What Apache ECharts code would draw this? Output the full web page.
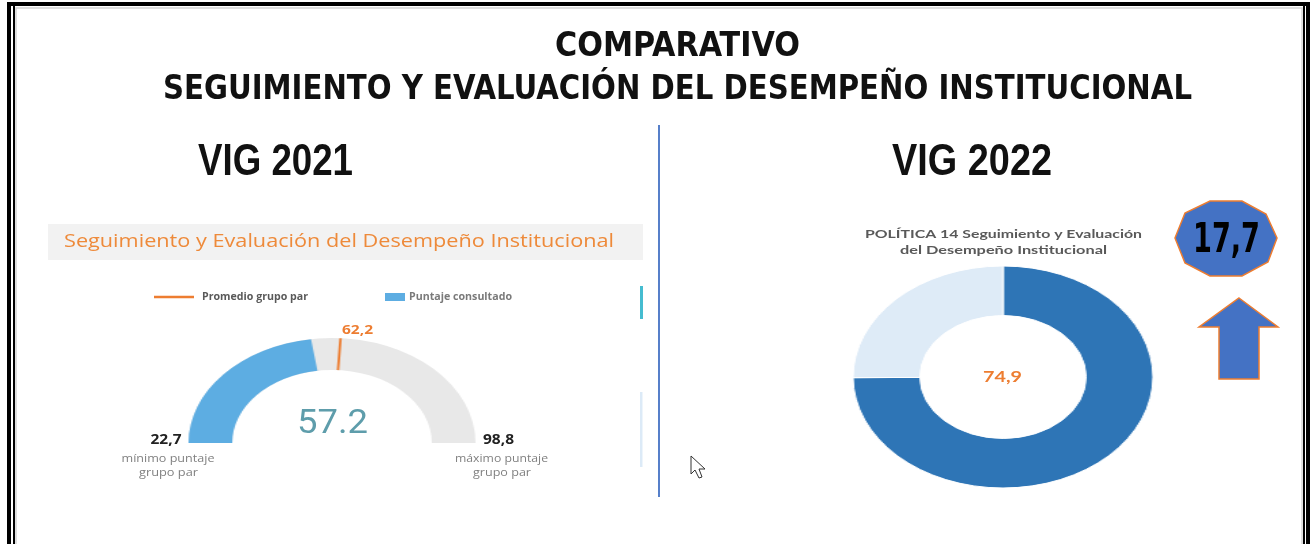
<!DOCTYPE html>
<html lang="es">
<head>
    <meta charset="UTF-8">
    <title>Comparativo Seguimiento y Evaluación del Desempeño Institucional</title>
    <script src="https://cdn.jsdelivr.net/npm/echarts@6/dist/echarts.min.js"></script>
    <style>
        body { margin: 0; overflow: hidden; background: #fff; }
        #main { position: absolute; left: 0; top: 0; width: 1310px; height: 544px; }
        /* los dos graficos circulares van estirados en horizontal como en la captura */
        #gauge { position: absolute; left: 212px; top: 323px; width: 240px; height: 125px;
                 transform: scaleX(1.367); transform-origin: 120px 120px; }
        #donut { position: absolute; left: 873px; top: 247px; width: 260px; height: 260px;
                 transform: scaleX(1.351); transform-origin: 130px 130px; }
    </style>
</head>
<body>
<div id="main"></div>
<div id="gauge"></div>
<div id="donut"></div>
<script type="text/javascript">
    // datos
    var titulos = ['COMPARATIVO', 'SEGUIMIENTO Y EVALUACIÓN DEL DESEMPEÑO INSTITUCIONAL'];
    var vigencias = ['VIG 2021', 'VIG 2022'];
    var leyenda2021 = ['Promedio grupo par', 'Puntaje consultado'];
    var rango2021 = [22.7, 98.8];          // minimo y maximo puntaje grupo par
    var puntaje2021 = [57.2];
    var promedio2021 = [62.2];
    var rangoEtiquetas = [['mínimo puntaje', 'grupo par'], ['máximo puntaje', 'grupo par']];
    var partes2022 = ['Puntaje', 'Resto'];
    var valores2022 = [74.9, 25.1];
    var mejora = [17.7];

    function coma(v) { return v.toFixed(1).replace('.', ','); }

    var ctx = document.createElement('canvas').getContext('2d');
    function fit(text, font, width) {
        ctx.font = font;
        return width / ctx.measureText(text).width;
    }
    function txt(text, x, y, font, fill, width) {
        return {
            type: 'text', x: x, y: y, scaleX: width ? fit(text, font, width) : 1,
            style: { text: text, font: font, fill: fill, align: 'center', verticalAlign: 'middle' }
        };
    }

    var fTitle = 'bold 33px "Liberation Sans Narrow", "DejaVu Sans Condensed", sans-serif';
    var fVig = 'bold 44px "Liberation Sans", sans-serif';
    var fPanel = '"Open Sans", sans-serif';

    var mainChart = echarts.init(document.getElementById('main'));
    mainChart.setOption({
        animation: false,
        backgroundColor: '#fff',
        graphic: [
            // marco
            { type: 'rect', shape: { x: 9, y: 4, width: 1299, height: 600 }, style: { fill: 'none', stroke: '#000', lineWidth: 4 } },
            { type: 'line', shape: { x1: 14, y1: 5, x2: 14, y2: 544 }, style: { stroke: '#000', lineWidth: 2 } },
            { type: 'line', shape: { x1: 1304, y1: 5, x2: 1304, y2: 544 }, style: { stroke: '#000', lineWidth: 2 } },
            { type: 'rect', shape: { x: 16, y: 8, width: 1286, height: 600 }, style: { fill: 'none', stroke: '#d4d4d4', lineWidth: 1.5 } },

            txt(titulos[0], 677.5, 47, fTitle, '#111', 245),
            txt(titulos[1], 677.5, 90, fTitle, '#111', 1029),
            txt(vigencias[0], 275.5, 163, fVig, '#111', 155),
            txt(vigencias[1], 972, 163, fVig, '#111', 160),

            { type: 'line', shape: { x1: 659, y1: 125, x2: 659, y2: 497 }, style: { stroke: '#4472C4', lineWidth: 1.8 } },

            // panel 2021
            { type: 'rect', shape: { x: 48, y: 224, width: 595, height: 36 }, style: { fill: '#F2F2F2' } },
            txt('Seguimiento y Evaluación del Desempeño Institucional', 339, 242, '19px ' + fPanel, '#EE8A3A', 550),
            { type: 'line', shape: { x1: 154, y1: 297, x2: 194, y2: 297 }, style: { stroke: '#ED7D31', lineWidth: 2.5 } },
            txt(leyenda2021[0], 255, 297, 'bold 10px ' + fPanel, '#595959', 106),
            { type: 'rect', shape: { x: 385, y: 293, width: 20, height: 8 }, style: { fill: '#5DADE2' } },
            txt(leyenda2021[1], 460.5, 297, 'bold 10px ' + fPanel, '#7a7a7a', 103),
            { type: 'rect', shape: { x: 640, y: 286, width: 3, height: 33 }, style: { fill: '#45BCD0' } },
            { type: 'rect', shape: { x: 640, y: 392, width: 2.5, height: 75 }, style: { fill: '#DCEAF7' } },

            txt(coma(promedio2021[0]), 357.5, 330, 'bold 13px ' + fPanel, '#ED7D31', 31),
            txt(String(puntaje2021[0]), 332.5, 424, '34px Roboto, sans-serif', '#5E9DAB', 71),
            txt(coma(rango2021[0]), 166, 440, 'bold 14px ' + fPanel, '#222', 31),
            txt(coma(rango2021[1]), 498.5, 440, 'bold 14px ' + fPanel, '#222', 31),
            txt(rangoEtiquetas[0][0], 168, 459, '11px ' + fPanel, '#808080', 93),
            txt(rangoEtiquetas[0][1], 168.5, 473, '11px ' + fPanel, '#808080', 59),
            txt(rangoEtiquetas[1][0], 501.5, 459, '11px ' + fPanel, '#808080', 93),
            txt(rangoEtiquetas[1][1], 502, 473, '11px ' + fPanel, '#808080', 58),

            // panel 2022
            txt('POLÍTICA 14 Seguimiento y Evaluación', 1003.5, 234, 'bold 12px Lato, sans-serif', '#595959', 277),
            txt('del Desempeño Institucional', 1003.5, 250, 'bold 12px Lato, sans-serif', '#595959', 207),
            txt(coma(valores2022[0]), 1002.5, 377, 'bold 15px Lato, sans-serif', '#ED7D31', 39),

            { type: 'polygon', shape: { points: [[1210, 201], [1242, 201], [1266, 214], [1277, 238], [1268, 262], [1242, 276], [1210, 276], [1185, 263], [1175, 238], [1185, 213]] },
              style: { fill: '#4472C4', stroke: '#ED7D31', lineWidth: 1.5 } },
            txt(coma(mejora[0]), 1226.5, 242, 'bold 40px "Liberation Sans Narrow", "DejaVu Sans Condensed", sans-serif', '#000', 67),
            { type: 'polygon', shape: { points: [[1239, 298], [1278, 327], [1259, 327], [1259, 379], [1219, 379], [1219, 327], [1199, 327]] },
              style: { fill: '#4472C4', stroke: '#ED7D31', lineWidth: 1.5 } },

            // puntero del raton
            { type: 'polygon', shape: { points: [[691, 456], [691, 474], [695, 470], [699, 478], [702, 477], [699, 469], [705, 469]] },
              style: { fill: '#fff', stroke: '#333', lineWidth: 1 } }
        ]
    });

    var gaugeBase = {
        type: 'gauge', center: ['50%', 120], radius: 105,
        startAngle: 180, endAngle: 0, min: rango2021[0], max: rango2021[1],
        axisTick: { show: false }, splitLine: { show: false }, axisLabel: { show: false },
        anchor: { show: false }, title: { show: false }, detail: { show: false }
    };
    var gaugeChart = echarts.init(document.getElementById('gauge'));
    gaugeChart.setOption({
        animation: false,
        series: [
            Object.assign({}, gaugeBase, {
                axisLine: { lineStyle: { width: 32, color: [[1, '#E8E8E8']] } },
                progress: { show: true, width: 32, itemStyle: { color: '#5DADE2' } },
                pointer: { show: false },
                data: [{ value: puntaje2021[0], name: leyenda2021[1] }]
            }),
            Object.assign({}, gaugeBase, {
                axisLine: { show: false },
                progress: { show: false },
                pointer: {
                    show: true, length: 105, width: 1.8,
                    icon: 'path://M0 0 L10 0 L10 30.5 L0 30.5 Z M0 100 L10 100',
                    itemStyle: { color: '#ED7D31' }
                },
                data: [{ value: promedio2021[0], name: leyenda2021[0] }]
            })
        ]
    });

    var donutChart = echarts.init(document.getElementById('donut'));
    donutChart.setOption({
        animation: false,
        series: [{
            type: 'pie', center: ['50%', '50%'], radius: [61.5, 111],
            startAngle: 90, clockwise: true, silent: true,
            label: { show: false }, labelLine: { show: false },
            itemStyle: { borderColor: '#fff', borderWidth: 1 },
            data: [
                { value: valores2022[0], name: partes2022[0], itemStyle: { color: '#2E75B6' } },
                { value: valores2022[1], name: partes2022[1], itemStyle: { color: '#DEEBF7' } }
            ]
        }]
    });
</script>
</body>
</html>
